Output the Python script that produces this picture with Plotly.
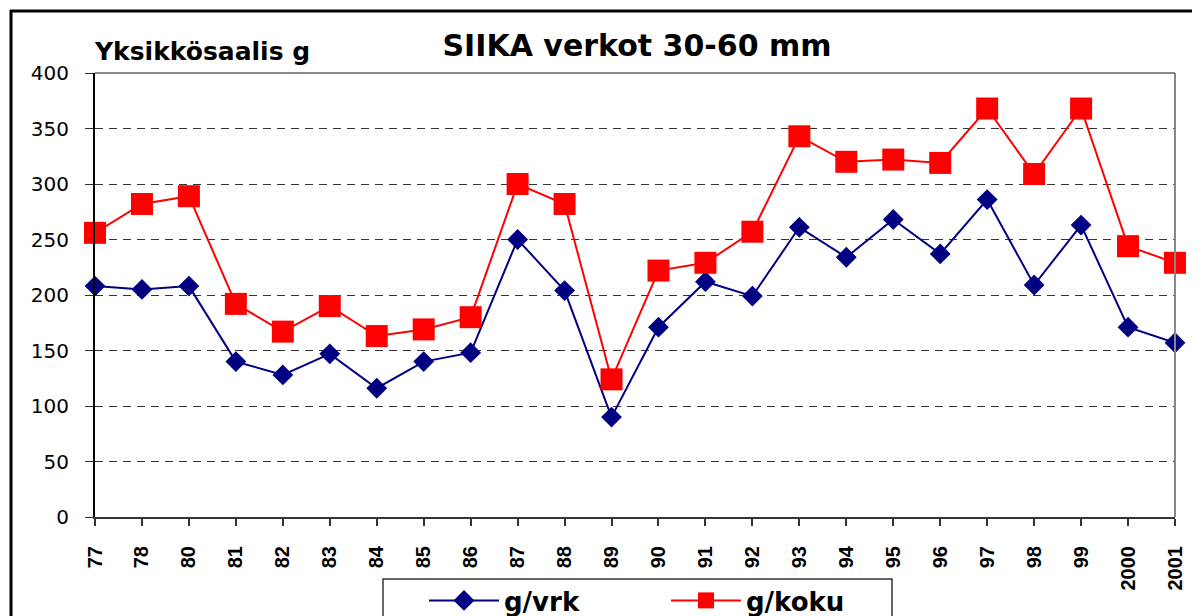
import plotly.graph_objects as go

years = ["77", "78", "80", "81", "82", "83", "84", "85", "86", "87", "88", "89",
         "90", "91", "92", "93", "94", "95", "96", "97", "98", "99", "2000", "2001"]
g_vrk = [208, 205, 208, 140, 128, 147, 116, 140, 148, 250, 204, 90,
         171, 212, 199, 261, 234, 268, 237, 286, 209, 263, 171, 157]
g_koku = [256, 282, 289, 192, 167, 190, 163, 169, 180, 300, 282, 124,
          222, 229, 257, 343, 320, 322, 319, 368, 309, 368, 244, 229]
y_ticks = [0, 50, 100, 150, 200, 250, 300, 350, 400]

# page body adds an 8px offset; work in window pixels.
# The figure is taller than the window so the (cut-off) legend fits inside it.
OFF = 8
W, H = 1200 - OFF, 700 - OFF
PL, PR, PT, PB = 95, 1175, 73, 517          # plot area in window px
L, T = PL - OFF, PT - OFF
R = W - (PR - OFF)
B = H - (PB - OFF)

def px(x):
    return (x - PL) / (PR - PL)

def py(y):
    return (PB - y) / (PB - PT)

def cx(x):
    return (x - OFF) / W

def cy(y):
    return 1 - (y - OFF) / H

sans = "DejaVu Sans, Verdana, sans-serif"
arial = "Liberation Sans, Arial, sans-serif"

fig = go.Figure()
fig.add_trace(go.Scatter(
    x=years, y=g_vrk, name="g/vrk", mode="lines+markers",
    line=dict(color="#000080", width=2),
    marker=dict(symbol="diamond", size=16, color="#000080"),
    cliponaxis=False,
))
fig.add_trace(go.Scatter(
    x=years, y=g_koku, name="g/koku", mode="lines+markers",
    line=dict(color="#ff0000", width=2),
    marker=dict(symbol="square", size=22, color="#ff0000"),
    cliponaxis=False,
))

fig.update_layout(
    width=W, height=H,
    margin=dict(l=L, r=R, t=T, b=B),
    paper_bgcolor="white", plot_bgcolor="white",
    font=dict(family=sans, color="black"),
    showlegend=True,
    legend=dict(
        orientation="h", x=px(424), y=py(577), xanchor="left", yanchor="top",
        borderwidth=0, bgcolor="rgba(0,0,0,0)",
        font=dict(size=26, family=sans, weight="bold"),
        itemwidth=70,
        entrywidth=157, entrywidthmode="pixels",
    ),
    xaxis=dict(
        type="category", categoryorder="array", categoryarray=years,
        range=[0, len(years) - 1],
        showgrid=False, showline=True, linecolor="#333333", linewidth=2,
        ticks="outside", ticklen=7, tickcolor="#333333", tickwidth=1.5,
        tickangle=-90, ticklabelstandoff=12,
        tickfont=dict(size=20, family=arial, weight="bold"),
        zeroline=False, fixedrange=True,
    ),
    yaxis=dict(
        range=[0, 400], tickvals=y_ticks,
        showgrid=True, gridcolor="#333333", griddash="8px,6px", gridwidth=1,
        showline=True, linecolor="black", linewidth=2,
        ticks="outside", ticklen=8, tickcolor="#333333",
        ticklabelstandoff=12,
        tickfont=dict(size=20, family=sans),
        zeroline=False, fixedrange=True,
    ),
    title=dict(
        text="SIIKA verkot 30-60 mm", xref="container", yref="container",
        x=cx(637), xanchor="center", y=cy(45), yanchor="middle",
        font=dict(size=30, family=sans, weight="bold"),
    ),
    annotations=[dict(
        text="Yksikkösaalis g", xref="paper", yref="paper",
        x=px(92), y=py(52), xanchor="left", yanchor="middle",
        showarrow=False, font=dict(size=25, family=sans, weight="bold"),
    )],
    shapes=[
        # plot area top and right border (gray)
        dict(type="line", xref="paper", yref="paper", x0=0, x1=1, y0=1, y1=1,
             line=dict(color="#888888", width=2)),
        dict(type="line", xref="paper", yref="paper", x0=1, x1=1, y0=0, y1=1,
             line=dict(color="#888888", width=2)),
        # legend box
        dict(type="rect", xref="paper", yref="paper", x0=px(383), x1=px(892),
             y0=py(579), y1=py(660), line=dict(color="#333333", width=1.5),
             fillcolor="rgba(0,0,0,0)"),
        # outer chart frame (left and top)
        dict(type="line", xref="paper", yref="paper", x0=px(11), x1=px(11),
             y0=py(10), y1=py(690), line=dict(color="black", width=3)),
        dict(type="line", xref="paper", yref="paper", x0=px(10), x1=px(1220),
             y0=py(11), y1=py(11), line=dict(color="black", width=3)),
    ],
)

fig.write_html("out.html")
